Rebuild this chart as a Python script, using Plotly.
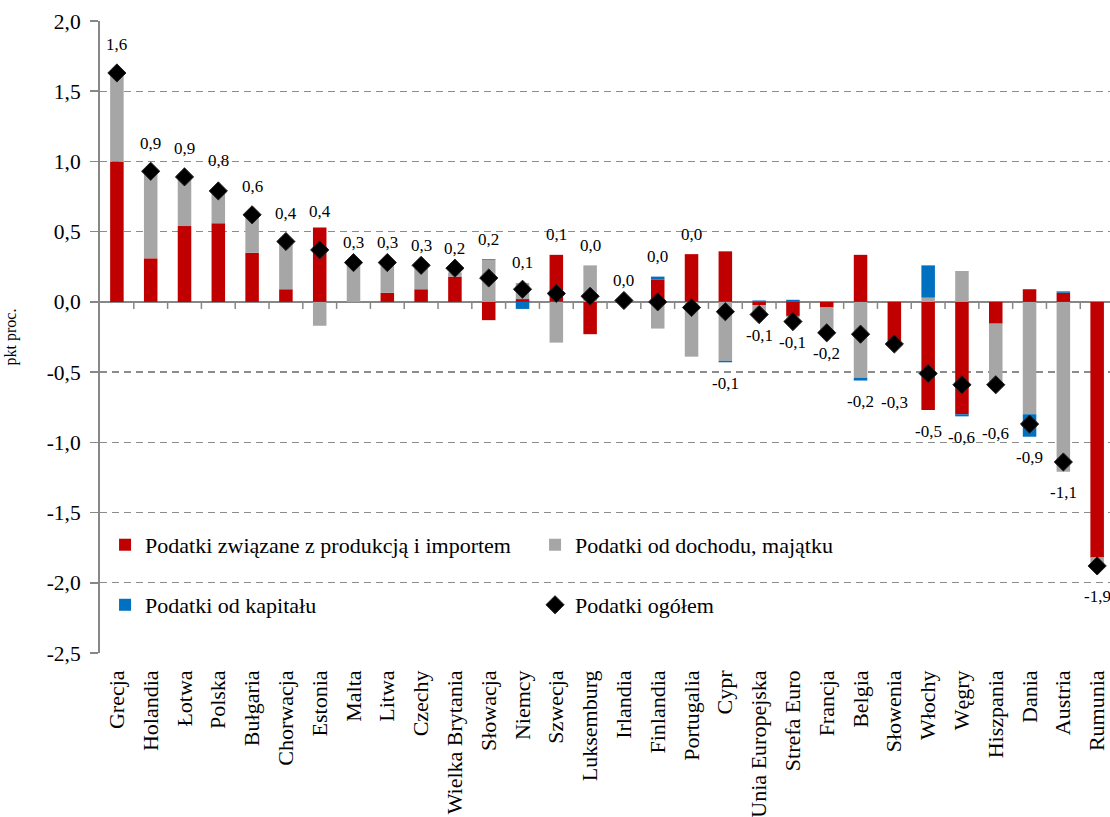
import numpy as np
import plotly.graph_objects as go

countries = ["Grecja", "Holandia", "Łotwa", "Polska", "Bułgaria", "Chorwacja", "Estonia",
             "Malta", "Litwa", "Czechy", "Wielka Brytania", "Słowacja", "Niemcy", "Szwecja",
             "Luksemburg", "Irlandia", "Finlandia", "Portugalia", "Cypr", "Unia Europejska",
             "Strefa Euro", "Francja", "Belgia", "Słowenia", "Włochy", "Węgry", "Hiszpania",
             "Dania", "Austria", "Rumunia"]

produkcja = [1.00, 0.31, 0.54, 0.56, 0.35, 0.09, 0.53, 0.0, 0.065, 0.09, 0.18, -0.13, 0.02, 0.335,
             -0.23, 0.01, 0.16, 0.34, 0.36, -0.025, -0.10, -0.04, 0.335, -0.28, -0.77, -0.80,
             -0.155, 0.09, 0.065, -1.82]

dochod = [0.63, 0.61, 0.35, 0.23, 0.26, 0.34, -0.17, 0.28, 0.21, 0.16, 0.03, 0.30, 0.115, -0.29,
          0.26, 0.0, -0.19, -0.39, -0.42, -0.05, -0.01, -0.18, -0.54, 0.0, 0.03, 0.22, -0.44,
          -0.80, -1.21, -0.05]

kapital = [0.0, 0.01, 0.0, 0.0, 0.0, 0.0, 0.0, 0.0, 0.0, 0.0, 0.0, 0.005, -0.05, 0.0,
           0.0, 0.0, 0.02, 0.0, -0.01, 0.01, 0.015, 0.0, -0.02, 0.0, 0.23, -0.015, 0.0,
           -0.16, 0.01, 0.0]

ogolem = [1.63, 0.93, 0.89, 0.79, 0.62, 0.43, 0.37, 0.28, 0.28, 0.26, 0.24, 0.17, 0.09, 0.06,
          0.04, 0.01, 0.0, -0.04, -0.07, -0.09, -0.14, -0.22, -0.23, -0.30, -0.51, -0.59, -0.59,
          -0.87, -1.14, -1.88]

y_ticks = [2.0, 1.5, 1.0, 0.5, 0.0, -0.5, -1.0, -1.5, -2.0, -2.5]

# manual label nudges in pixels (layout only)
LABEL_NUDGE = {"Grecja": 8, "Holandia": 8, "Łotwa": 8, "Polska": 10, "Bułgaria": 8, "Chorwacja": 8,
               "Estonia": -4, "Słowenia": -37, "Hiszpania": -27, "Rumunia": -10}

FONT = "Liberation Serif"
RED = "#C00000"
GRAY = "#A6A6A6"
BLUE = "#0070C0"
AXIS = "#878787"


def fmt(v):
    s = f"{v:.1f}"
    if s == "-0.0":
        s = "0.0"
    return s.replace(".", ",")


fig = go.Figure()
fig.add_trace(go.Bar(x=countries, y=produkcja, name="Podatki związane z produkcją i importem",
                     marker=dict(color=RED, line=dict(width=0)), width=0.4, legend="legend"))
fig.add_trace(go.Bar(x=countries, y=dochod, name="Podatki od dochodu, majątku",
                     marker=dict(color=GRAY, line=dict(width=0)), width=0.4, legend="legend"))
fig.add_trace(go.Bar(x=countries, y=kapital, name="Podatki od kapitału",
                     marker=dict(color=BLUE, line=dict(width=0)), width=0.4, legend="legend2"))
fig.add_trace(go.Scatter(x=countries, y=ogolem, name="Podatki ogółem", mode="markers",
                         marker=dict(symbol="diamond", size=14, color="#000000",
                                     line=dict(width=1, color="#222222")),
                         legend="legend2"))

comps = np.array([produkcja, dochod, kapital])
pos_top = np.where(comps > 0, comps, 0).sum(axis=0)
neg_bot = np.where(comps < 0, comps, 0).sum(axis=0)
tot = np.array(ogolem)

annotations = []
for i, c in enumerate(countries):
    lab = fmt(tot[i])
    nud = LABEL_NUDGE.get(c, 0)
    if not lab.startswith("-"):
        y = max(pos_top[i], tot[i])
        ys = 20 + nud
    else:
        y = min(neg_bot[i], tot[i])
        ys = -21 + nud
    annotations.append(dict(x=c, y=y, text=lab, showarrow=False, yshift=ys,
                            xanchor="center", yanchor="middle",
                            font=dict(family=FONT, size=17, color="#000000")))

shapes = []
for i in range(len(countries) - 1):
    shapes.append(dict(type="line", xref="x", yref="y", x0=i + 0.5, x1=i + 0.5,
                       ysizemode="pixel", yanchor=0, y0=0, y1=-7,
                       line=dict(color=AXIS, width=1.5)))

legend_common = dict(orientation="h", xanchor="left", yanchor="middle",
                     entrywidth=385, entrywidthmode="pixels", bgcolor="rgba(0,0,0,0)",
                     font=dict(family=FONT, size=22, color="#000000"), traceorder="normal")

fig.update_layout(
    width=1110, height=817,
    margin=dict(l=100, r=0, t=21, b=164),
    paper_bgcolor="white", plot_bgcolor="white",
    barmode="relative",
    font=dict(family=FONT, size=21, color="#000000"),
    showlegend=True,
    legend=dict(x=0.005, y=0.171, **legend_common),
    legend2=dict(x=0.005, y=0.076, **legend_common),
    annotations=annotations,
    shapes=shapes,
)

fig.update_xaxes(range=[-0.5, 29.38], tickangle=-90, showgrid=False, showline=False,
                 ticks="", tickfont=dict(family=FONT, size=22, color="#000000"),
                 ticklabelstandoff=12, fixedrange=True)

fig.update_yaxes(range=[-2.5, 2.0], tickvals=y_ticks, ticktext=[fmt(v) for v in y_ticks],
                 showgrid=True, gridcolor="#8C8C8C", gridwidth=1.3, griddash="7px,5px",
                 zeroline=True, zerolinecolor=AXIS, zerolinewidth=2.5,
                 showline=True, linecolor=AXIS, linewidth=2,
                 ticks="outside", ticklen=8, tickcolor=AXIS, tickwidth=1.5,
                 ticklabelstandoff=5,
                 tickfont=dict(family=FONT, size=21.5, color="#000000"),
                 title=dict(text="pkt proc.", font=dict(family=FONT, size=16, color="#000000"),
                            standoff=26),
                 fixedrange=True)

fig.write_html("out.html",
               config={"displayModeBar": False, "staticPlot": True},
               post_script="document.body.style.margin='0';document.body.style.overflow='hidden';")
